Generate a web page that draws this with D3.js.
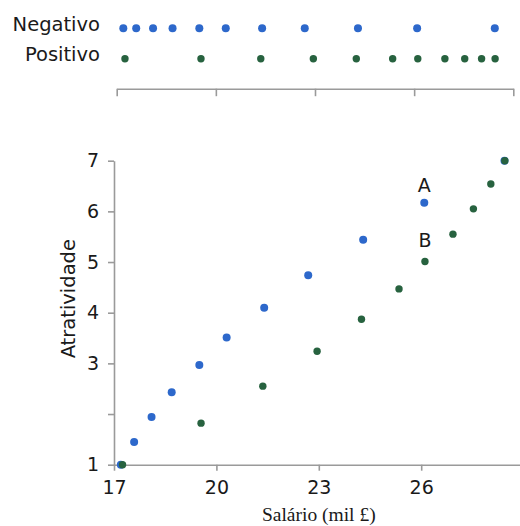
<!DOCTYPE html>
<html><head><meta charset="utf-8">
<script src="https://cdn.jsdelivr.net/npm/d3@7"></script>
<style>
html,body{margin:0;padding:0;background:#fff;}
svg{display:block;}
.sans{font-family:"DejaVu Sans",sans-serif;fill:#1a1a1a;}
.serif{font-family:"Liberation Serif","Times New Roman",serif;fill:#1a1a1a;}
</style>
</head><body>
<svg id="c" width="520" height="526"></svg>
<script>
// ---- data ----
const seriesNames = ["Negativo", "Positivo"];
const negSalary = [17.20, 17.59, 18.10, 18.69, 19.50, 20.30, 21.40, 22.69, 24.30, 26.09, 28.44];
const negAttract = [1.00, 1.45, 1.94, 2.43, 2.97, 3.51, 4.10, 4.74, 5.44, 6.17, 7.00];
const posSalary = [17.25, 19.55, 21.36, 22.95, 24.25, 25.35, 26.11, 26.93, 27.53, 28.04, 28.45];
const posAttract = [1.00, 1.82, 2.55, 3.24, 3.87, 4.47, 5.01, 5.55, 6.05, 6.54, 7.00];
const xTicks = [17, 20, 23, 26];
const stripTicks = [17, 20, 23, 26, 29];
const yTicks = [1, 2, 3, 4, 5, 6, 7];
const yTickLabels = ["1", "", "3", "4", "5", "6", "7"];
const annotations = [{label: "A", series: 0, index: 9}, {label: "B", series: 1, index: 6}];
const xTitle = "Salário (mil £)";
const yTitle = "Atratividade";

const colors = ["#2d68cb", "#27623f"];
const axisColor = "#9a9a9a";

const svg = d3.select("#c");
const series = seriesNames.map((name, s) => ({
  name,
  pts: (s === 0 ? negSalary : posSalary).map((x, i) => ({x, y: (s === 0 ? negAttract : posAttract)[i]}))
}));

// ---- scales ----
const x = d3.scaleLinear().domain([17, 29]).range([114, 523.6]);
const y = d3.scaleLinear().domain([1, 7]).range([464.7, 160.7]);
const xs = d3.scaleLinear().domain([17, 29]).range([116.7, 513.3]);
const yStrip = d3.scaleBand().domain(seriesNames).range([13, 74]);

function styleAxis(g){
  g.select(".domain").attr("stroke", axisColor).attr("stroke-width", 1.6);
  g.selectAll(".tick line").attr("stroke", axisColor).attr("stroke-width", 1.6);
  g.selectAll(".tick text").attr("class", "sans").attr("font-size", 19).attr("fill", "#1a1a1a");
  g.attr("font-family", null).attr("font-size", null);
}

// ---- strip (top) ----
const stripAxis = svg.append("g").attr("transform", "translate(0,88.7)")
  .call(d3.axisBottom(xs).tickValues(stripTicks).tickFormat("").tickSize(7.5).tickSizeOuter(0));
styleAxis(stripAxis);

svg.append("g").selectAll("text").data(seriesNames).join("text")
  .attr("class", "sans").attr("font-size", 19.5).attr("text-anchor", "end")
  .attr("x", 100).attr("y", d => yStrip(d) + yStrip.bandwidth()/2 + 2.5)
  .text(d => d);

series.forEach((s, si) => {
  svg.append("g").selectAll("circle").data(s.pts).join("circle")
    .attr("cx", d => xs(d.x))
    .attr("cy", yStrip(s.name) + yStrip.bandwidth()/2)
    .attr("r", si === 0 ? 4 : 3.7)
    .attr("fill", colors[si]);
});

// ---- main axes ----
const xAxisG = svg.append("g").attr("transform", `translate(0,${y(1)})`)
  .call(d3.axisBottom(x).tickValues(xTicks).tickSize(6).tickSizeOuter(0).tickPadding(10));
styleAxis(xAxisG);

const yAxisG = svg.append("g").attr("transform", `translate(${x(17)},0)`)
  .call(d3.axisLeft(y).tickValues(yTicks).tickFormat((d, i) => yTickLabels[i]).tickSize(6).tickSizeOuter(0).tickPadding(9));
styleAxis(yAxisG);

svg.append("text").attr("class", "serif").attr("font-size", 19.5).attr("text-anchor", "middle")
  .attr("x", x(23)).attr("y", 521).text(xTitle);

svg.append("text").attr("class", "sans").attr("font-size", 19.5).attr("text-anchor", "middle")
  .attr("transform", `translate(75,${(y(1)+y(7))/2 - 14}) rotate(-90)`).text(yTitle);

// ---- points ----
series.forEach((s, si) => {
  svg.append("g").selectAll("circle").data(s.pts).join("circle")
    .attr("cx", d => x(d.x)).attr("cy", d => y(d.y))
    .attr("r", si === 0 ? 4 : 3.7)
    .attr("fill", colors[si]);
});

// ---- annotations ----
svg.append("g").selectAll("text").data(annotations).join("text")
  .attr("class", "sans").attr("font-size", 19).attr("text-anchor", "middle")
  .attr("x", d => x(series[d.series].pts[d.index].x))
  .attr("y", d => y(series[d.series].pts[d.index].y) - (d.series === 0 ? 11 : 15))
  .text(d => d.label);
</script>
</body></html>
